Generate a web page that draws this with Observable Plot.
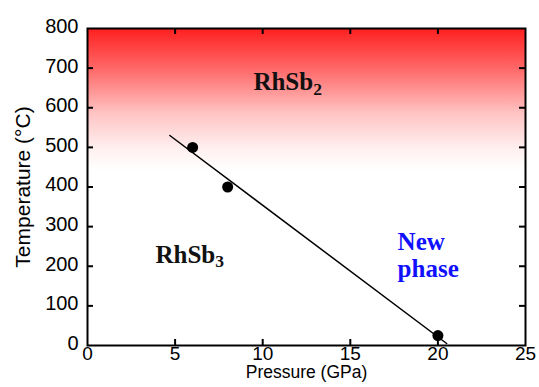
<!DOCTYPE html>
<html>
<head>
<meta charset="utf-8">
<script src="https://cdn.jsdelivr.net/npm/d3@7"></script>
<script src="https://cdn.jsdelivr.net/npm/@observablehq/plot@0.6"></script>
<style>
  html, body { margin: 0; padding: 0; background: #fff; }
</style>
</head>
<body>
<div id="chart"></div>
<script>
// Measured data points (Pressure GPa, Temperature °C)
const pressure = [6, 8, 20];
const temperature = [500, 400, 25];

// Phase boundary line
const boundaryP = [4.7, 20.5];
const boundaryT = [530, 5];

// Tick values
const xTicks = [0, 5, 10, 15, 20, 25];
const yTicks = [0, 100, 200, 300, 400, 500, 600, 700, 800];
const innerXTicks = [5, 10, 15, 20];
const innerYTicks = [100, 200, 300, 400, 500, 600, 700];

// Phase region labels
const phaseNames = ["RhSb2", "RhSb3", "New\nphase"];
const phaseP = [9.47, 3.88, 17.7];
const phaseT = [666, 230, 290];
const phaseColors = ["#111111", "#111111", "#1010ff"];

// Red fading band (temperature range)
const fadeRange = [440, 800];

const points = pressure.map((p, i) => ({p, t: temperature[i]}));
const boundary = boundaryP.map((p, i) => ({p, t: boundaryT[i]}));
const phases = phaseNames.map((name, i) => ({name, p: phaseP[i], t: phaseT[i], c: phaseColors[i]}));

const W = 539, H = 387;
const mL = 87, mR = 14, mT = 28, mB = 42;
const fw = W - mL - mR, fh = H - mT - mB;
const tickLen = 6;

const labelStyle = {
  x: "p", y: "t", text: "name", fill: "c",
  textAnchor: "start",
  fontSize: 25, fontWeight: "bold", lineHeight: 1.08,
  fontFamily: "'Liberation Serif', 'Times New Roman', serif",
  className: "phase-label"
};

const chart = Plot.plot({
  width: W,
  height: H,
  marginLeft: mL,
  marginRight: mR,
  marginTop: mT,
  marginBottom: mB,
  style: {fontFamily: "'Liberation Sans', Arial, sans-serif", background: "#fff", color: "#000"},
  x: {domain: [0, 25]},
  y: {domain: [0, 800]},
  marks: [
    Plot.rect([0], {x1: 0, x2: 25, y1: fadeRange[0], y2: fadeRange[1], fill: "url(#redFade)"}),
    Plot.line(boundary, {x: "p", y: "t", stroke: "#000", strokeWidth: 1.5}),
    Plot.dot(points, {x: "p", y: "t", r: 5.5, fill: "#000"}),
    Plot.text(phases, {...labelStyle, filter: d => !d.name.includes("\n"), lineAnchor: "middle"}),
    Plot.text(phases, {...labelStyle, filter: d => d.name.includes("\n"), lineAnchor: "top"}),
    Plot.frame({stroke: "#000", strokeWidth: 2}),
    // inward ticks: bottom, top, left, right
    Plot.tickX(innerXTicks, {x: d => d, insetTop: fh - tickLen, stroke: "#000", strokeWidth: 2}),
    Plot.tickX(innerXTicks, {x: d => d, insetBottom: fh - tickLen, stroke: "#000", strokeWidth: 2}),
    Plot.tickY(innerYTicks, {y: d => d, insetRight: fw - tickLen, stroke: "#000", strokeWidth: 2}),
    Plot.tickY(innerYTicks, {y: d => d, insetLeft: fw - tickLen, stroke: "#000", strokeWidth: 2}),
    Plot.axisX(xTicks, {tickSize: 0, tickPadding: 1, fontSize: 19, label: null, fill: "#000"}),
    Plot.axisY(yTicks, {tickSize: 0, tickPadding: 9, fontSize: 20, dy: -2, label: null, fill: "#000"}),
    Plot.text(["Pressure (GPa)"], {frameAnchor: "bottom", textAnchor: "middle", lineAnchor: "middle", dy: 27, fontSize: 17.5, fill: "#000"}),
    Plot.text(["Temperature (°C)"], {frameAnchor: "left", textAnchor: "middle", lineAnchor: "middle", rotate: -90, dx: -64, fontSize: 21, fill: "#000"})
  ]
});

// gradient definition
chart.insertAdjacentHTML("afterbegin",
  '<defs><linearGradient id="redFade" x1="0" y1="0" x2="0" y2="1">' +
  '<stop offset="0" stop-color="#ff1f1f"/>' +
  '<stop offset="0.3" stop-color="#ff6c6c"/>' +
  '<stop offset="0.6" stop-color="#ffc4c4"/>' +
  '<stop offset="0.85" stop-color="#fff0f0"/>' +
  '<stop offset="1" stop-color="#ffffff"/>' +
  '</linearGradient></defs>');

// subscripts for chemical formulas
chart.querySelectorAll(".phase-label text").forEach(el => {
  const m = el.textContent.match(/^(RhSb)(\d)$/);
  if (m) {
    el.textContent = m[1];
    const ts = document.createElementNS("http://www.w3.org/2000/svg", "tspan");
    ts.setAttribute("font-size", "0.7em");
    ts.setAttribute("dy", "0.25em");
    ts.textContent = m[2];
    el.appendChild(ts);
  }
});

document.getElementById("chart").appendChild(chart);
</script>
</body>
</html>
